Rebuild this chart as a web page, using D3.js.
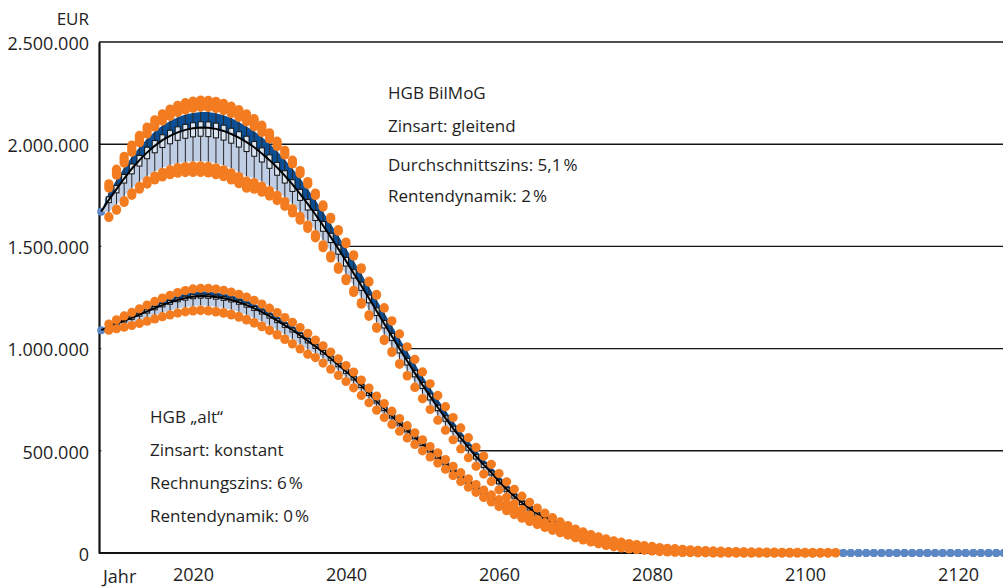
<!DOCTYPE html>
<html><head><meta charset="utf-8">
<script src="https://cdn.jsdelivr.net/npm/d3@7/dist/d3.min.js"></script>
<style>
body{margin:0;background:#fff}
svg{display:block}
text{font-family:"Open Sans",sans-serif;fill:#1e1e1e}
</style>
</head><body>
<svg id="chart" width="1003" height="587"></svg>
<script>
// ---------------- data (values in thousand EUR, one entry per year from 2008) ----------------
const FIRST_YEAR = 2008;
const yTicks = [0, 500000, 1000000, 1500000, 2000000, 2500000];
const yTickLabels = ["0", "500.000", "1.000.000", "1.500.000", "2.000.000", "2.500.000"];
const xTicks = [2020, 2040, 2060, 2080, 2100, 2120];
const xTickLabels = ["2020", "2040", "2060", "2080", "2100", "2120"];

// HGB BilMoG (Zinsart gleitend) – median per year 2008..2126
const bilmogMedian = [
 1670,1728,1780,1832,1880,1922,1960,1992,2020,2041,
 2058,2070,2078,2082,2081,2075,2065,2050,2032,2010,
 1985,1955,1922,1886,1846,1803,1757,1708,1656,1602,
 1546,1488,1429,1369,1308,1246,1184,1122,1060,999,
 939,880,822,766,712,660,610,562,516,472,
 431,393,350,312,278,246,218,192,169,148,
 129,112,97,84,73,63,54,46,40,34,
 29,25,21,17,14,12,10,8,6,5,
 4,3,2,2,1,1,1,1,0,0,
 0,0,0,0,0,0,0,0,0,0,
 0,0,0,0,0,0,0,0,0,0,
 0,0,0,0,0,0,0,0,0];
// distances from the median, 2008..2104
const bilmogOutlierUp = [
 0,78,98,108,116,121,124,127,129,131,
 132,133,133,134,134,135,135,136,137,138,
 140,138,134,129,124,119,114,109,105,101,
 96,94,92,90,87,84,81,78,76,73,
 70,67,64,62,59,56,53,50,48,45,
 43,41,39,36,34,32,30,28,26,25,
 23,22,20,19,17,16,15,14,13,12,
 12,11,11,10,9,9,8,8,7,7,
 6,6,5,5,5,4,4,4,4,3,
 3,3,3,2,2,2,2];
const bilmogWhiskerUp = [
 0,35,46,53,58,63,67,70,71,73,
 74,75,75,76,76,77,77,78,77,77,
 78,80,81,80,79,78,76,73,71,68,
 65,64,62,61,59,57,55,53,52,50,
 48,46,44,42,40,38,36,34,33,31,
 29,28,27,25,23,22,20,19,18,17,
 16,15,14,13,12,11,10,9,8,8,
 7,7,6,6,5,5,4,4,3,3,
 2,2,2,2,1,1,1,1,0,0,
 0,0,0,0,0,0,0];
const bilmogBoxUp = [
 0,14,18,20,23,23,25,26,26,27,
 27,27,27,28,28,28,28,28,29,29,
 28,27,26,25,24,23,22,21,20,19,
 18,18,17,17,17,16,15,15,14,14,
 13,13,12,12,11,11,10,10,9,9,
 8,8,7,7,6,6,6,5,5,5,
 4,4,4,4,3,3,3,3,2,2,
 2,2,2,2,2,1,1,1,1,1,
 1,1,1,0,0,0,0,0,0,0,
 0,0,0,0,0,0,0];
const bilmogBoxDown = [
 0,14,18,22,25,29,31,34,36,39,
 39,41,42,43,44,44,45,45,46,46,
 44,42,40,38,36,34,32,30,29,28,
 27,26,25,24,23,22,22,21,20,20,
 19,18,17,17,16,15,14,14,13,12,
 12,11,11,10,9,9,8,8,7,7,
 6,6,6,5,5,5,4,4,4,3,
 3,3,3,2,2,2,2,1,1,1,
 1,1,1,0,0,0,0,0,0,0,
 0,0,0,0,0,0,0];
const bilmogWhiskerDown = [
 0,60,75,86,96,106,116,125,135,143,
 150,157,162,165,167,168,168,168,168,168,
 150,138,126,114,104,95,88,81,76,72,
 68,66,64,62,60,58,56,54,52,50,
 48,46,44,42,40,38,36,35,33,31,
 30,28,27,25,24,22,21,20,18,17,
 16,15,14,13,12,11,10,10,9,8,
 7,7,6,5,5,4,4,3,3,2,
 2,2,1,1,1,1,1,1,0,0,
 0,0,0,0,0,0,0];
const bilmogOutlierDown = [
 0,86,103,117,130,142,155,167,180,190,
 200,209,216,220,222,224,224,225,225,225,
 205,190,176,162,150,139,129,120,114,108,
 103,100,97,94,91,88,85,82,79,76,
 73,70,67,64,62,59,56,53,50,48,
 45,43,41,38,36,34,32,30,28,26,
 25,23,22,20,19,18,17,16,15,14,
 13,12,11,10,9,8,7,6,5,4,
 4,3,2,2,1,1,1,1,0,0,
 0,0,0,0,0,0,0];

// HGB "alt" (Zinsart konstant) – median per year 2008..2126
const altMedian = [
 1090,1106,1121,1136,1150,1166,1182,1198,1213,1226,
 1238,1247,1254,1257,1256,1252,1246,1238,1227,1213,
 1197,1179,1159,1137,1114,1091,1065,1038,1011,983,
 952,920,888,856,818,780,742,705,669,634,
 600,566,533,501,470,438,406,376,347,320,
 294,270,247,226,206,187,170,154,139,125,
 112,100,89,79,70,61,53,46,39,33,
 28,23,19,16,13,10,8,6,5,4,
 3,2,2,1,1,1,0,0,0,0,
 0,0,0,0,0,0,0,0,0,0,
 0,0,0,0,0,0,0,0,0,0,
 0,0,0,0,0,0,0,0,0];
// distances from the median, 2008..2103
const altOutlierUp = [
 0,14,20,24,27,29,31,33,34,35,
 36,37,38,38,39,39,39,39,39,39,
 39,39,39,39,38,38,38,37,31,31,
 31,30,29,29,28,27,26,26,25,24,
 23,22,21,20,20,19,18,17,16,15,
 14,14,14,13,12,12,11,10,10,9,
 9,9,9,8,8,7,7,7,6,6,
 7,6,6,6,5,5,5,5,4,4,
 4,4,3,3,3,3,3,2,2,2,
 2,2,1,1,1,1];
const altWhiskerUp = [
 0,8,12,14,16,17,18,19,20,21,
 22,22,23,23,23,23,23,23,23,23,
 23,23,23,23,22,22,22,22,21,20,
 20,19,19,18,18,17,17,16,16,16,
 16,15,14,14,13,13,12,12,11,11,
 9,9,8,8,7,7,7,6,6,6,
 5,5,5,4,4,4,4,3,3,3,
 4,4,3,3,3,3,3,2,2,2,
 2,2,2,1,1,1,1,1,1,1,
 1,0,0,0,0,0];
const altBoxUp = [
 0,3,5,6,7,7,8,8,8,9,
 9,9,9,9,9,9,9,9,9,9,
 9,9,9,9,9,9,9,9,8,8,
 8,8,8,8,7,7,7,7,7,6,
 6,6,6,5,5,5,5,5,4,4,
 4,4,4,3,3,3,3,3,3,3,
 2,2,2,2,2,2,2,2,2,1,
 1,1,1,1,1,1,1,1,1,1,
 1,1,1,0,0,0,0,0,0,0,
 0,0,0,0,0,0];
const altBoxDown = [
 0,3,5,6,7,7,8,8,9,9,
 9,10,10,10,10,10,10,10,10,10,
 10,10,10,10,10,10,10,10,10,10,
 9,9,9,9,9,9,8,8,8,8,
 7,7,7,7,6,6,6,6,5,5,
 5,5,4,4,4,4,4,3,3,3,
 3,3,3,2,2,2,2,2,2,2,
 2,1,1,1,1,1,1,1,1,1,
 1,1,1,1,1,1,0,0,0,0,
 0,0,0,0,0,0];
const altWhiskerDown = [
 0,10,16,21,25,29,32,35,38,40,
 42,44,45,46,47,47,47,47,47,47,
 47,46,46,46,45,45,44,43,32,31,
 30,29,28,28,27,26,25,24,23,22,
 22,21,20,19,18,17,16,16,15,14,
 14,13,12,12,11,10,10,9,9,8,
 8,8,7,7,7,6,6,5,5,5,
 6,6,5,5,4,4,3,3,3,2,
 2,1,1,1,1,1,0,0,0,0,
 0,0,0,0,0,0];
const altOutlierDown = [
 0,16,24,31,37,43,48,53,57,61,
 64,67,70,71,72,73,73,73,73,73,
 72,72,71,70,69,68,67,66,55,54,
 53,51,49,48,47,45,43,42,40,38,
 37,35,33,31,30,28,27,26,25,23,
 22,20,20,19,18,17,16,15,14,14,
 13,12,12,11,10,9,9,9,8,8,
 8,7,7,6,5,5,4,3,3,2,
 2,2,1,1,1,1,0,0,0,0,
 0,0,0,0,0,0];

const textTop = ["HGB BilMoG", "Zinsart: gleitend", "Durchschnittszins: 5,1\u202F%", "Rentendynamik: 2\u202F%"];
const textLeft = ["HGB \u201Ealt\u201C", "Zinsart: konstant", "Rechnungszins: 6\u202F%", "Rentendynamik: 0\u202F%"];

// ---------------- build ----------------
const UNIT = 1000;
function build(median, outUp, wUp, bUp, bDown, wDown, outDown) {
  return outUp.map((_, i) => {
    const m = median[i];
    return { year: FIRST_YEAR + i, med: m,
      hiOut: m + outUp[i], wHi: m + wUp[i], q3: m + bUp[i],
      q1: m - bDown[i], wLo: m - wDown[i], loOut: m - outDown[i] };
  });
}
const scenarios = [
  { stats: build(bilmogMedian, bilmogOutlierUp, bilmogWhiskerUp, bilmogBoxUp, bilmogBoxDown, bilmogWhiskerDown, bilmogOutlierDown),
    medians: bilmogMedian.map((v, i) => ({ year: FIRST_YEAR + i, med: v })) },
  { stats: build(altMedian, altOutlierUp, altWhiskerUp, altBoxUp, altBoxDown, altWhiskerDown, altOutlierDown),
    medians: altMedian.map((v, i) => ({ year: FIRST_YEAR + i, med: v })) }
];

const pL = 99, pR = 1003, pT = 42, pB = 553;
const x = d3.scaleLinear().domain([2020, 2120]).range([193, 958]);
const y = d3.scaleLinear().domain([0, 2500000]).range([pB, pT]);
const Y = v => y(v * UNIT);

const C = { orange: "#f47c20", dark: "#0b4e93", light: "#bfcde5", dot: "#5c87c5", box: "#dbe4f1", ink: "#111" };
const svg = d3.select("#chart");

// gridlines
svg.append("g").selectAll("line").data(yTicks.filter(d => d > 0)).join("line")
  .attr("x1", pL).attr("x2", pR).attr("y1", d => y(d)).attr("y2", d => y(d))
  .attr("stroke", "#151515").attr("stroke-width", 1.4);

// white area below the BilMoG band hides the grid
svg.append("path").datum(scenarios[0].stats)
  .attr("d", d3.area().x(d => x(d.year)).y0(y(0)).y1(d => Y(d.wLo)))
  .attr("fill", "#fff");

// axes
const fmt = v => yTickLabels[yTicks.indexOf(v)];
const yAxis = svg.append("g").attr("transform", `translate(${pL},0)`)
  .call(d3.axisLeft(y).tickValues(yTicks).tickFormat(fmt).tickSize(0).tickPadding(10));
yAxis.select(".domain").attr("stroke", "#111").attr("stroke-width", 2.2);
yAxis.selectAll("text").attr("font-size", 18).attr("font-family", "Open Sans").attr("fill", "#1e1e1e").attr("dy", "0.4em");

svg.append("line").attr("x1", pL).attr("x2", pR).attr("y1", pB).attr("y2", pB)
  .attr("stroke", "#111").attr("stroke-width", 1.8);

const xAxis = svg.append("g").attr("transform", `translate(0,${pB})`)
  .call(d3.axisBottom(x).tickValues(xTicks).tickFormat((d, i) => xTickLabels[i]).tickSize(0).tickPadding(15));
xAxis.select(".domain").remove();
xAxis.selectAll("text").attr("font-size", 18).attr("font-family", "Open Sans").attr("fill", "#1e1e1e");

svg.append("text").attr("x", 103).attr("y", 583).attr("font-size", 18).text("Jahr");
svg.append("text").attr("x", 89).attr("y", 25).attr("text-anchor", "end").attr("font-size", 17).text("EUR");

// blue median markers (visible where the bands vanish)
scenarios.forEach(s => {
  svg.append("g").selectAll("circle").data(s.medians).join("circle")
    .attr("cx", d => x(d.year)).attr("cy", d => Y(d.med)).attr("r", 4).attr("fill", C.dot);
});

// bands
scenarios.forEach(s => {
  svg.append("path").datum(s.stats)
    .attr("d", d3.area().x(d => x(d.year)).y0(d => Y(d.wLo)).y1(d => Y(d.med)))
    .attr("fill", C.light);
  svg.append("path").datum(s.stats)
    .attr("d", d3.area().x(d => x(d.year)).y0(d => Y(d.med)).y1(d => Y(d.wHi)))
    .attr("fill", C.dark);
});

// whiskers + boxes
scenarios.forEach(s => {
  const st = s.stats.filter(d => d.wHi > d.wLo);
  svg.append("g").selectAll("line").data(st).join("line")
    .attr("x1", d => x(d.year)).attr("x2", d => x(d.year))
    .attr("y1", d => Y(d.wHi)).attr("y2", d => Y(d.wLo))
    .attr("stroke", "#2a2a2a").attr("stroke-width", 1);
  svg.append("g").selectAll("rect").data(s.stats.filter(d => d.q3 > d.q1)).join("rect")
    .attr("x", d => x(d.year) - 2.5).attr("width", 5)
    .attr("y", d => Y(d.q3)).attr("height", d => Math.max(2.5, Y(d.q1) - Y(d.q3)))
    .attr("fill", C.box).attr("stroke", C.ink).attr("stroke-width", 1);
});

// median lines
scenarios.forEach(s => {
  svg.append("path").datum(s.stats)
    .attr("d", d3.line().x(d => x(d.year)).y(d => Y(d.med)))
    .attr("fill", "none").attr("stroke", "#000").attr("stroke-width", 2);
});

// orange outliers (capsules reaching to the whisker ends)
const R = 4.6;
scenarios.forEach(s => {
  const st = s.stats.filter(d => d.hiOut > d.loOut);
  const g = svg.append("g").attr("stroke", C.orange).attr("stroke-width", 2 * R).attr("stroke-linecap", "round");
  g.selectAll("line.up").data(st).join("line").attr("class", "up")
    .attr("x1", d => x(d.year)).attr("x2", d => x(d.year))
    .attr("y1", d => Y(d.hiOut)).attr("y2", d => Math.max(Y(d.hiOut), Y(d.wHi) - R));
  g.selectAll("line.dn").data(st).join("line").attr("class", "dn")
    .attr("x1", d => x(d.year)).attr("x2", d => x(d.year))
    .attr("y1", d => Y(d.loOut)).attr("y2", d => Math.min(Y(d.loOut), Y(d.wLo) + R));
});

// annotations
const tTop = svg.append("g").attr("font-size", 17);
[99, 132, 171, 202].forEach((yy, i) => tTop.append("text").attr("x", 388).attr("y", yy).text(textTop[i]));
const tLeft = svg.append("g").attr("font-size", 17);
[423, 456, 489, 522].forEach((yy, i) => tLeft.append("text").attr("x", 150).attr("y", yy).text(textLeft[i]));
</script>
</body></html>
